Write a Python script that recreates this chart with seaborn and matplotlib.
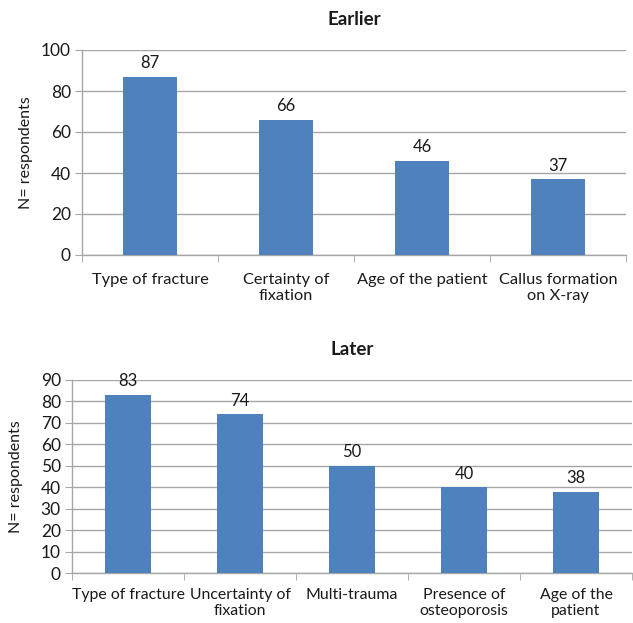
import matplotlib
matplotlib.use("Agg")
import matplotlib.pyplot as plt
import seaborn as sns
import pandas as pd
import numpy as np

# Factors considered, earlier and later in treatment
earlier_labels = ["Type of fracture", "Certainty of\nfixation", "Age of the patient", "Callus formation\non X-ray"]
earlier_values = [87, 66, 46, 37]
later_labels = ["Type of fracture", "Uncertainty of\nfixation", "Multi-trauma", "Presence of\nosteoporosis", "Age of the\npatient"]
later_values = [83, 74, 50, 40, 38]

earlier_ticks = [0, 20, 40, 60, 80, 100]
later_ticks = [0, 10, 20, 30, 40, 50, 60, 70, 80, 90]

sns.set_style("white")
plt.rcParams["font.family"] = ["Lato", "DejaVu Sans"]

BAR = "#4F81BD"
GRID = "#A6A6A6"
TEXT = "#1a1a1a"

fig = plt.figure(figsize=(6.33, 6.23), dpi=100)
W, H = 633, 623
ax1 = fig.add_axes([82 / W, 1 - 255 / H, (626 - 82) / W, (255 - 50) / H])
ax2 = fig.add_axes([72 / W, 1 - 573 / H, (632 - 72) / W, (573 - 380) / H])


def draw(ax, labels, values, ticks, title, width, pad, xfs):
    df = pd.DataFrame({"factor": labels, "n": values})
    sns.barplot(data=df, x="factor", y="n", color=BAR, saturation=1,
                width=width, ax=ax, zorder=3, linewidth=0, edgecolor="none")
    ax.set_ylim(ticks[0], ticks[-1])
    ax.set_yticks(ticks)
    ax.yaxis.grid(True, color=GRID, linewidth=1, zorder=0)
    ax.set_axisbelow(True)
    n = len(labels)
    ax.set_xlim(-0.5, n - 0.5)
    ax.set_xticks(range(n))
    ax.set_xticklabels(labels, fontsize=xfs, color=TEXT, linespacing=1.15)
    ax.set_xticks(np.arange(-0.5, n, 1.0), minor=True)
    ax.tick_params(axis="x", which="major", length=0, pad=pad)
    ax.tick_params(axis="x", which="minor", length=5, color=GRID, direction="out", bottom=True)
    ax.tick_params(axis="y", length=5, color=GRID, direction="out", left=True,
                   labelsize=12.5, labelcolor=TEXT, pad=3)
    for s in ["top", "right"]:
        ax.spines[s].set_visible(False)
    for s in ["left", "bottom"]:
        ax.spines[s].set_color(GRID)
        ax.spines[s].set_linewidth(1)
    ax.set_xlabel("")
    ax.set_ylabel("N= respondents", fontsize=11.5, color=TEXT)
    for p, v in zip(ax.patches, values):
        ax.annotate(f"{v}", (p.get_x() + p.get_width() / 2, v),
                    xytext=(0, 4), textcoords="offset points",
                    ha="center", va="bottom", fontsize=12, color=TEXT)
    ax.set_title(title, fontsize=13.5, fontweight="bold", color=TEXT, pad=18)


draw(ax1, earlier_labels, earlier_values, earlier_ticks, "Earlier", 0.4, 13, 11.8)
draw(ax2, later_labels, later_values, later_ticks, "Later", 0.41, 11, 11.4)
ax1.yaxis.set_label_coords(-0.09, 0.5)
ax2.yaxis.set_label_coords(-0.088, 0.5)

fig.savefig("out.png", dpi=100, facecolor="white")
